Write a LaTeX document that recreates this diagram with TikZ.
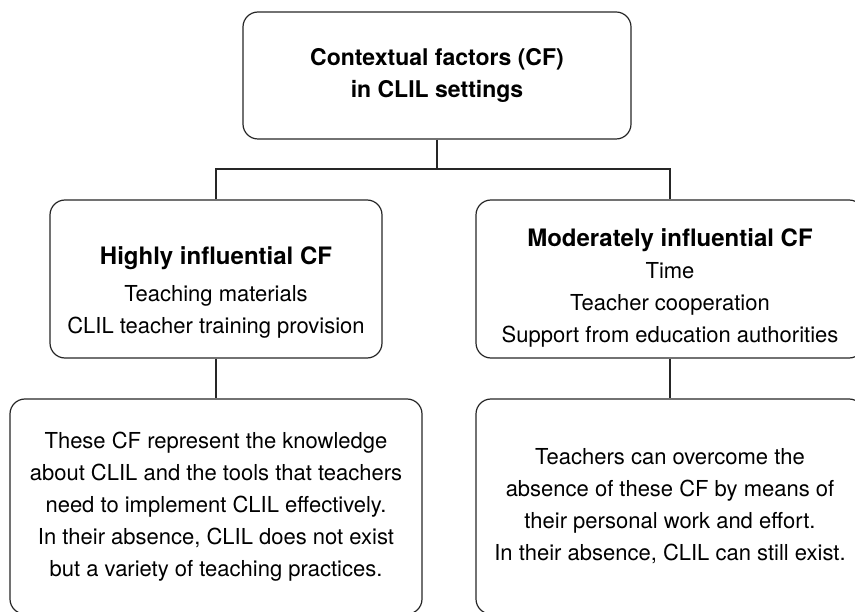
\documentclass[tikz,border=0pt]{standalone}
\usepackage{fontspec}
\setmainfont{TeX Gyre Heros}
\tikzset{
    % boxes
    factor-box/.style={
        draw=black!85,
        line width=1.2pt,
        rounded corners=15pt,
        inner sep=0pt
    },
    factor-text/.style={
        align=center,
        inner sep=0pt,
        font=\fontsize{22}{32}\selectfont
    },
    factor-title/.style={
        font=\fontsize{23}{32}\selectfont\bfseries
    },
    % connectors
    link/.style={
        draw=black!85,
        line width=1.2pt
    }
}
\begin{document}
\begin{tikzpicture}[x=1pt, y=-1pt]

        \useasboundingbox (0, 0) rectangle (855, 612);
        \clip (0, 0) rectangle (855, 612);

        % draw boxes
        \node [factor-box, minimum width=388, minimum height=127] (context) at (437, 75.5) {};
        \node [factor-box, minimum width=332, minimum height=158] (high) at (216, 279) {};
        \node [factor-box, minimum width=388, minimum height=158] (moderate) at (670, 279) {};
        \node [factor-box, minimum width=412, minimum height=215] (high-note) at (216, 506.5) {};
        \node [factor-box, minimum width=388, minimum height=215] (moderate-note) at (670, 506.5) {};

        % draw texts
        \node [factor-text, factor-title] (context-text) at (context.center)
            {Contextual factors (CF)\\in CLIL settings};
        \node [factor-text] (high-text) at (216, 292)
            {{\fontsize{24}{24}\selectfont\bfseries Highly influential CF}\\[5pt]
             Teaching materials\\CLIL teacher training provision};
        \node [factor-text] (moderate-text) at (670, 287.5)
            {{\fontsize{24}{24}\selectfont\bfseries Moderately influential CF}\\
             Time\\Teacher cooperation\\Support from education authorities};
        \node [factor-text] (high-note-text) at (high-note.center)
            {These CF represent the knowledge\\about CLIL and the tools that teachers\\
             need to implement CLIL effectively.\\In their absence, CLIL does not exist\\
             but a variety of teaching practices.};
        \node [factor-text] (moderate-note-text) at (moderate-note.center)
            {Teachers can overcome the\\absence of these CF by means of\\
             their personal work and effort.\\In their absence, CLIL can still exist.};

        % draw edges
        \coordinate (split) at (437, 169);
        \draw [link] (context.south) -- (split);
        \draw [link] (high.north) |- (split) -| (moderate.north);
        \draw [link] (high.south) -- (high-note.north);
        \draw [link] (moderate.south) -- (moderate-note.north);

    \end{tikzpicture}
\end{document}
